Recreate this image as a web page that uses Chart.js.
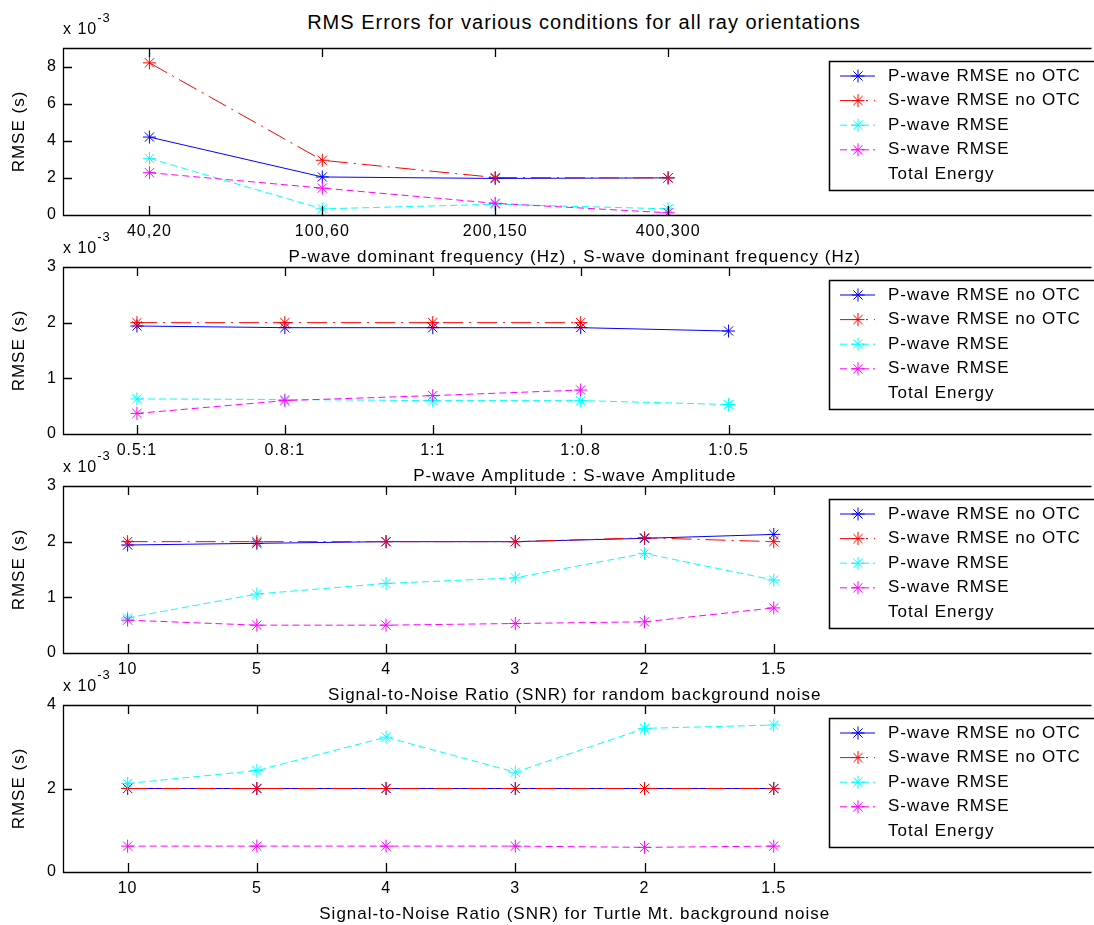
<!DOCTYPE html>
<html>
<head>
<meta charset="utf-8">
<script src="https://cdn.jsdelivr.net/npm/chart.js@4.4.1/dist/chart.umd.min.js"></script>
<style>
  html, body { margin: 0; padding: 0; background: #fff; }
  #fig { position: relative; width: 1094px; height: 925px; overflow: hidden; font-family: "Liberation Sans", Arial, sans-serif; }
  #title { position: absolute; left: 63px; width: 1042px; top: 9px; text-align: center; font-size: 20px; line-height: 26px; letter-spacing: 1px; color: #000; }
  canvas { position: absolute; left: 0; top: 0; }
</style>
</head>
<body>
<div id="fig">
<div id="title">RMS Errors for various conditions for all ray orientations</div>
<canvas id="freq" width="1094" height="925"></canvas>
<canvas id="amp" width="1094" height="925"></canvas>
<canvas id="rand" width="1094" height="925"></canvas>
<canvas id="turtle" width="1094" height="925"></canvas>
</div>
<script>
// categories on each x axis
const freqCats = ["40,20", "100,60", "200,150", "400,300"];
const ampCats = ["0.5:1", "0.8:1", "1:1", "1:0.8", "1:0.5"];
const snrCats = ["10", "5", "4", "3", "2", "1.5"];

// RMSE values, in units of 1e-3 s
const freqPNoOtc = [4.2, 2.05, 1.97, 2.0];
const freqSNoOtc = [8.2, 2.95, 2.02, 2.0];
const freqP = [3.05, 0.33, 0.58, 0.33];
const freqS = [2.28, 1.45, 0.63, 0.12];

const ampPNoOtc = [1.94, 1.91, 1.91, 1.91, 1.85];
const ampSNoOtc = [2.0, 2.0, 2.0, 2.0];
const ampP = [0.63, 0.62, 0.6, 0.6, 0.53];
const ampS = [0.37, 0.6, 0.69, 0.79];

const randPNoOtc = [1.94, 1.97, 2.0, 2.0, 2.06, 2.13];
const randSNoOtc = [2.0, 2.0, 2.0, 2.0, 2.07, 2.0];
const randP = [0.63, 1.06, 1.25, 1.35, 1.79, 1.31];
const randS = [0.59, 0.5, 0.5, 0.53, 0.56, 0.81];

const turtlePNoOtc = [2.0, 2.0, 2.0, 2.0, 2.0, 2.0];
const turtleSNoOtc = [2.0, 2.0, 2.0, 2.0, 2.0, 2.0];
const turtleP = [2.12, 2.43, 3.23, 2.39, 3.44, 3.52];
const turtleS = [0.62, 0.62, 0.62, 0.62, 0.59, 0.62];

const seriesNames = ["P-wave RMSE no OTC", "S-wave RMSE no OTC", "P-wave RMSE", "S-wave RMSE", "Total Energy"];
const seriesColors = ["#0000ff", "#ff0000", "#00ffff", "#ff00ff"];
const seriesDash = [[], [20, 6, 2, 6], [7, 4], [7, 4]];

const FONT = '"Liberation Sans", Arial, sans-serif';
Chart.defaults.font.family = FONT;
Chart.defaults.color = "#000";

// axes box (open on the right, it runs off the page), inward ticks,
// y tick labels, x10^-3 exponent and the boxed legend
const framePlugin = {
  id: "frame",
  beforeUpdate(chart) { chart.ctx.letterSpacing = "1px"; },
  beforeDraw(chart) { chart.ctx.letterSpacing = "1px"; },
  afterDraw(chart) {
    const ctx = chart.ctx;
    const a = chart.chartArea;
    const x = chart.scales.x, y = chart.scales.y;
    ctx.save();
    ctx.letterSpacing = "1px";
    ctx.strokeStyle = "#000";
    ctx.lineWidth = 1.3;
    ctx.setLineDash([]);
    ctx.beginPath();
    ctx.moveTo(a.right + 5, a.top + 0.5);
    ctx.lineTo(a.left + 0.5, a.top + 0.5);
    ctx.lineTo(a.left + 0.5, a.bottom + 0.5);
    ctx.lineTo(a.right + 5, a.bottom + 0.5);
    x.ticks.forEach(t => {
      const px = Math.round(x.getPixelForValue(t.value)) + 0.5;
      ctx.moveTo(px, a.bottom); ctx.lineTo(px, a.bottom - 9);
      ctx.moveTo(px, a.top); ctx.lineTo(px, a.top + 9);
    });
    y.ticks.forEach(t => {
      const py = Math.round(y.getPixelForValue(t.value)) + 0.5;
      ctx.moveTo(a.left, py); ctx.lineTo(a.left + 9, py);
    });
    ctx.stroke();

    ctx.fillStyle = "#000";
    ctx.textBaseline = "middle";
    ctx.font = "16px " + FONT;
    ctx.textAlign = "right";
    y.ticks.forEach(t => {
      ctx.fillText(String(t.value), a.left - 6, y.getPixelForValue(t.value));
    });

    // exponent label above the y axis
    ctx.textAlign = "left";
    ctx.fillText("x 10", a.left, a.top - 18);
    const w = ctx.measureText("x 10").width;
    ctx.font = "13px " + FONT;
    ctx.fillText("-3", a.left + w, a.top - 30);

    // legend
    const lx = 829, ly = a.top + 13, lw = 300, lh = 129;
    ctx.fillStyle = "#fff";
    ctx.fillRect(lx, ly, lw, lh);
    ctx.lineWidth = 1.5;
    ctx.strokeStyle = "#000";
    ctx.strokeRect(lx + 0.5, ly + 0.5, lw, lh);
    chart.data.datasets.forEach((ds, i) => {
      const cy = ly + 15 + i * 24.6;
      if (ds.pointStyle) {
        ctx.strokeStyle = ds.borderColor;
        ctx.lineWidth = 1;
        ctx.setLineDash(ds.borderDash);
        ctx.beginPath();
        ctx.moveTo(lx + 11, cy); ctx.lineTo(lx + 46, cy);
        ctx.stroke();
        ctx.setLineDash([]);
        Chart.helpers.drawPoint(ctx, { pointStyle: "star", radius: 6.5, rotation: 0, borderWidth: 1 }, lx + 29, cy);
      }
      ctx.fillStyle = "#000";
      ctx.font = "17px " + FONT;
      ctx.textBaseline = "middle";
      ctx.fillText(ds.label, lx + 59, cy);
    });
    ctx.restore();
  }
};

function points(vals) {
  return vals.map((v, i) => ({ x: i + 1, y: v }));
}

function makePanel(id, cats, series, yMax, yStep, top, xTitle) {
  const bottom = top + 167;
  const datasets = series.map((vals, i) => ({
    label: seriesNames[i],
    data: points(vals),
    borderColor: seriesColors[i],
    backgroundColor: seriesColors[i],
    borderWidth: 1,
    borderDash: seriesDash[i],
    pointStyle: "star",
    pointRadius: 6.5,
    pointBorderWidth: 1,
    pointBorderColor: seriesColors[i],
    tension: 0,
    order: 4 - i
  }));
  datasets.push({ label: seriesNames[4], data: [], pointStyle: false, borderWidth: 0, order: 0 });

  return new Chart(document.getElementById(id), {
    type: "line",
    data: { datasets: datasets },
    options: {
      responsive: false,
      animation: false,
      events: [],
      layout: { padding: { top: top, bottom: 925 - bottom - 53, left: 0, right: 0 } },
      plugins: { legend: { display: false }, tooltip: { enabled: false } },
      scales: {
        x: {
          type: "linear",
          min: 0.5,
          max: cats.length + 2.42,
          afterBuildTicks: s => { s.ticks = cats.map((c, i) => ({ value: i + 1 })); },
          afterFit: s => { s.height = 53; },
          ticks: {
            callback: v => cats[v - 1],
            autoSkip: false,
            maxRotation: 0,
            padding: 7,
            font: { size: 16 },
            color: "#000"
          },
          grid: { display: false, drawTicks: false },
          border: { display: false },
          title: { display: true, text: xTitle, font: { size: 17 }, color: "#000", padding: { top: 0, bottom: 0 } }
        },
        y: {
          min: 0,
          max: yMax,
          afterFit: s => { s.width = 63; },
          ticks: { stepSize: yStep, includeBounds: false, display: false },
          grid: { display: false, drawTicks: false },
          border: { display: false },
          title: { display: true, text: "RMSE (s)", font: { size: 17 }, color: "#000", padding: { top: 9, bottom: 0 } }
        }
      }
    },
    plugins: [framePlugin]
  });
}

makePanel("freq", freqCats, [freqPNoOtc, freqSNoOtc, freqP, freqS], 9, 2, 48,
  "P-wave dominant frequency (Hz) , S-wave dominant frequency (Hz)");
makePanel("amp", ampCats, [ampPNoOtc, ampSNoOtc, ampP, ampS], 3, 1, 267,
  "P-wave Amplitude : S-wave Amplitude");
makePanel("rand", snrCats, [randPNoOtc, randSNoOtc, randP, randS], 3, 1, 486,
  "Signal-to-Noise Ratio (SNR) for random background noise");
makePanel("turtle", snrCats, [turtlePNoOtc, turtleSNoOtc, turtleP, turtleS], 4, 2, 705,
  "Signal-to-Noise Ratio (SNR) for Turtle Mt. background noise");
</script>
</body>
</html>
